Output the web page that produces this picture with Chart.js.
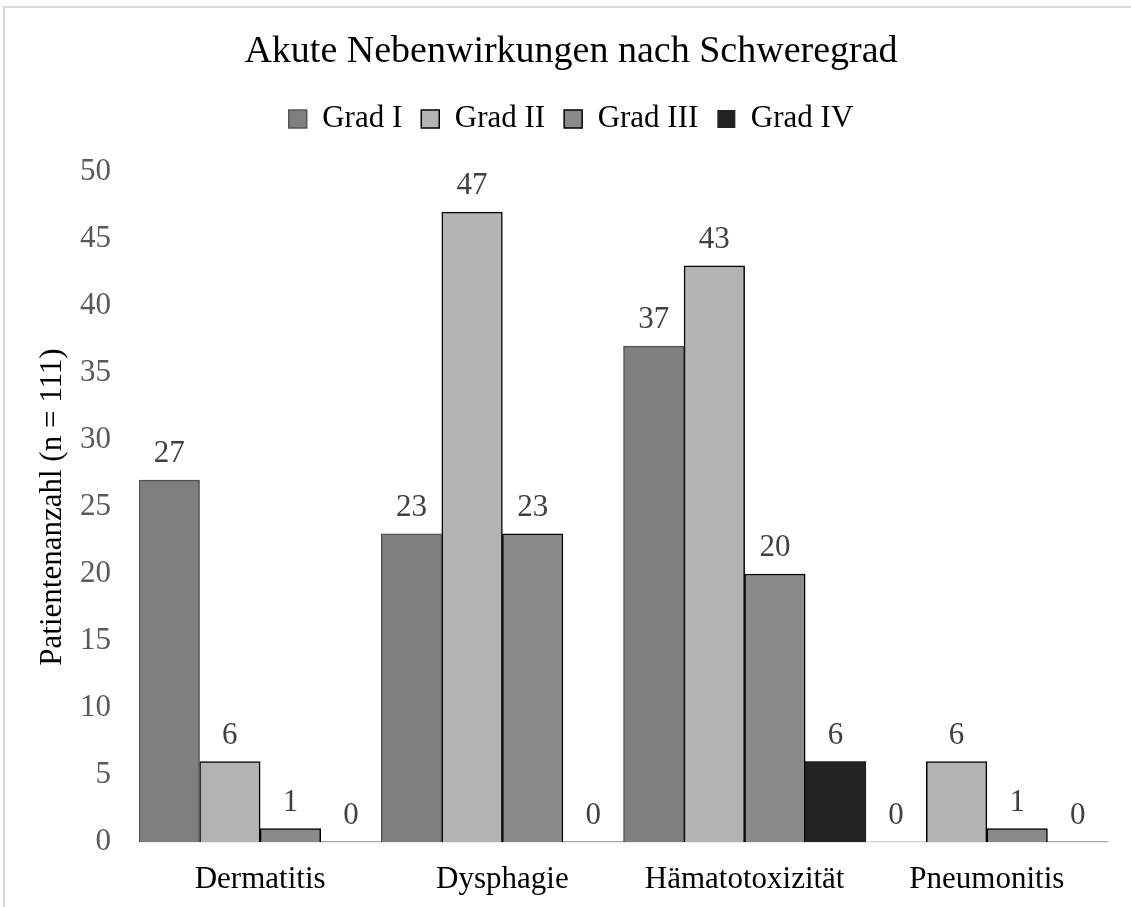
<!DOCTYPE html>
<html>
<head>
<meta charset="utf-8">
<script src="https://cdn.jsdelivr.net/npm/chart.js@4"></script>
<style>
html,body{margin:0;padding:0;background:#fff;}
#wrap{position:relative;width:1131px;height:907px;overflow:hidden;}
#frame{position:absolute;left:3px;top:6px;width:1140px;height:920px;border-left:2px solid #d9d9d9;border-top:2px solid #d9d9d9;box-sizing:border-box;pointer-events:none;}
canvas{position:absolute;left:0;top:0;}
</style>
</head>
<body>
<div id="wrap">
<canvas id="c" width="1131" height="907"></canvas>
<div id="frame"></div>
</div>
<script>
const categories = ["Dermatitis", "Dysphagie", "Hämatotoxizität", "Pneumonitis"];
const gradI   = [27, 23, 37, 0];
const gradII  = [6, 47, 43, 6];
const gradIII = [1, 23, 20, 1];
const gradIV  = [0, 0, 6, 0];
const seriesNames = ["Grad I", "Grad II", "Grad III", "Grad IV"];
const yTicks = [0, 5, 10, 15, 20, 25, 30, 35, 40, 45, 50];

const SERIF = "'Liberation Serif','Times New Roman',serif";

const valueLabels = {
  id: 'valueLabels',
  afterDatasetsDraw(chart) {
    const ctx = chart.ctx;
    ctx.save();
    ctx.font = "31px " + SERIF;
    ctx.fillStyle = '#404040';
    ctx.textAlign = 'center';
    ctx.textBaseline = 'alphabetic';
    chart.data.datasets.forEach((ds, i) => {
      const meta = chart.getDatasetMeta(i);
      meta.data.forEach((el, j) => {
        ctx.fillText(String(ds.data[j]), el.x, el.y - 18);
      });
    });
    ctx.restore();
  }
};

const chart = new Chart(document.getElementById('c'), {
  type: 'bar',
  data: {
    labels: categories,
    datasets: [
      {label: seriesNames[0], data: gradI,   backgroundColor: '#7f7f7f', borderColor: '#555555', borderWidth: 1.5},
      {label: seriesNames[1], data: gradII,  backgroundColor: '#b3b3b3', borderColor: '#000000', borderWidth: 1.5},
      {label: seriesNames[2], data: gradIII, backgroundColor: '#8a8a8a', borderColor: '#000000', borderWidth: 1.5},
      {label: seriesNames[3], data: gradIV,  backgroundColor: '#222222', borderColor: '#222222', borderWidth: 0}
    ]
  },
  options: {
    responsive: false,
    animation: false,
    devicePixelRatio: 1,
    layout: {padding: {left: 34, right: 23, top: 0, bottom: 0}},
    datasets: {bar: {categoryPercentage: 1.0, barPercentage: 1.0}},
    plugins: {
      title: {
        display: true,
        text: 'Akute Nebenwirkungen nach Schweregrad',
        color: '#000',
        font: {family: SERIF, size: 38, weight: 'normal'},
        padding: {top: 29, bottom: 10}
      },
      subtitle: {
        display: true,
        text: '',
        weight: 500,
        font: {family: SERIF, size: 1},
        padding: {top: 0, bottom: 26.2}
      },
      legend: {
        display: true,
        labels: {
          color: '#000',
          font: {family: SERIF, size: 31},
          boxWidth: 18,
          boxHeight: 18,
          padding: 19,
          generateLabels(chart) {
            return chart.data.datasets.map((ds, i) => ({
              text: ds.label,
              fillStyle: ds.backgroundColor,
              strokeStyle: ds.borderColor,
              lineWidth: ds.borderWidth ? 1.5 : 0,
              hidden: false,
              datasetIndex: i,
              fontColor: '#000'
            }));
          }
        }
      },
      tooltip: {enabled: false}
    },
    scales: {
      x: {
        grid: {display: false, drawTicks: false},
        border: {display: true, color: '#d9d9d9', width: 1.5},
        ticks: {color: '#000', font: {family: SERIF, size: 31}, padding: 19, maxRotation: 0},
        afterFit(s) { s.height = 65; }
      },
      y: {
        min: 0, max: 50,
        grid: {display: false, drawTicks: false},
        border: {display: false},
        afterBuildTicks(s) { s.ticks = yTicks.map(v => ({value: v})); },
        ticks: {color: '#595959', font: {family: SERIF, size: 31}, padding: 28},
        title: {
          display: true,
          text: 'Patientenanzahl (n = 111)',
          color: '#000',
          font: {family: SERIF, size: 31},
          padding: {top: 0, bottom: 0}
        },
        afterFit(s) { s.width = 105; }
      }
    }
  },
  plugins: [valueLabels]
});
</script>
</body>
</html>
